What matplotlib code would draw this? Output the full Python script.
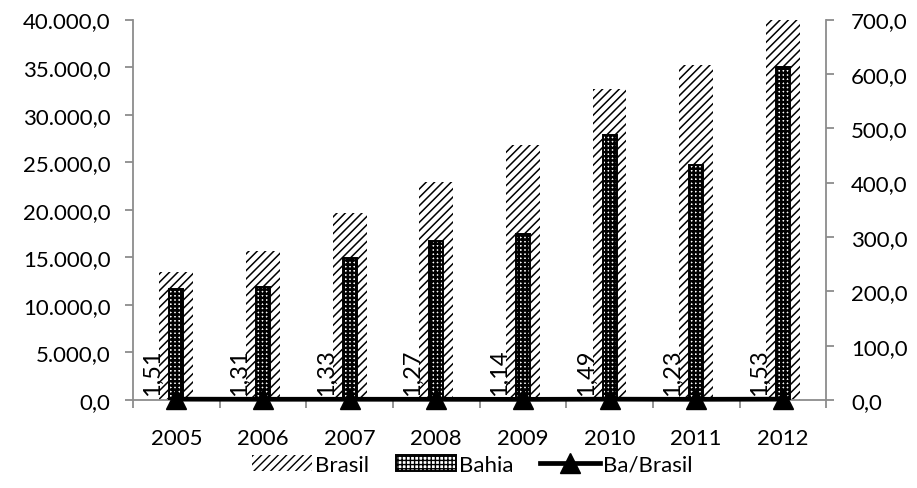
import numpy as np
import matplotlib
matplotlib.use("Agg")
import matplotlib.pyplot as plt
from matplotlib.ticker import FuncFormatter

plt.rcParams["font.family"] = ["Lato", "DejaVu Sans"]

years = ["2005", "2006", "2007", "2008", "2009", "2010", "2011", "2012"]
brasil = [13500, 15700, 19700, 22970, 26800, 32700, 35250, 40000]
bahia = [204, 207, 261, 292, 305, 488, 433, 613]
ba_brasil = [1.51, 1.31, 1.33, 1.27, 1.14, 1.49, 1.23, 1.53]

GRAY = "#8c8c8c"
FS = 16


def br_fmt(v, _pos=None):
    s = f"{v:,.1f}"
    return s.replace(",", "X").replace(".", ",").replace("X", ".")


x = np.arange(len(years))
fig = plt.figure(figsize=(9.17, 4.89), dpi=100)
ax = fig.add_axes([0.145, 0.18, 0.756, 0.778])
ax2 = ax.twinx()

with plt.rc_context({"hatch.linewidth": 1.1}):
    ax.bar(x, brasil, width=0.39, color="white", edgecolor="black", hatch="////",
           linewidth=0, label="Brasil", zorder=2)
with plt.rc_context({"hatch.linewidth": 1.8}):
    ax2.bar(x, bahia, width=0.16, color="white", edgecolor="black", hatch="++++",
            linewidth=1.4, label="Bahia", zorder=3)
ax2.plot(x, ba_brasil, "-^", color="black", lw=3.4, markersize=14,
         label="Ba/Brasil", zorder=4, clip_on=False)

# rotated ratio labels sitting just left of each marker
for xi, v in zip(x, ba_brasil):
    ax2.annotate(f"{v:.2f}".replace(".", ","), (xi, v), xytext=(-17, 3),
                 textcoords="offset points", rotation=90, ha="center",
                 va="bottom", fontsize=17, zorder=5)

ax.set_xlim(-0.5, len(years) - 0.5)
ax.set_ylim(0, 40000)
ax2.set_ylim(0, 700)
ax.set_yticks(np.arange(0, 40001, 5000))
ax2.set_yticks(np.arange(0, 701, 100))
ax.yaxis.set_major_formatter(FuncFormatter(br_fmt))
ax2.yaxis.set_major_formatter(FuncFormatter(br_fmt))

ax.set_xticks(x)
ax.set_xticklabels(years)
ax.set_xticks(np.arange(-0.5, len(years)), minor=True)
ax.tick_params(axis="x", which="major", length=0, pad=20, labelsize=FS)
ax.tick_params(axis="x", which="minor", length=6, color=GRAY, width=1.3)
ax.tick_params(axis="y", length=6, color=GRAY, width=1.3, labelsize=FS, pad=10)
ax2.tick_params(axis="y", length=6, color=GRAY, width=1.3, labelsize=FS, pad=12)

for a in (ax, ax2):
    a.spines["top"].set_visible(False)
    for side in ("left", "right", "bottom"):
        a.spines[side].set_color(GRAY)
        a.spines[side].set_linewidth(1.3)
ax.spines["right"].set_visible(False)
ax2.spines["left"].set_visible(False)
ax2.spines["bottom"].set_visible(False)

h1, l1 = ax.get_legend_handles_labels()
h2, l2 = ax2.get_legend_handles_labels()
order = [0, 2, 1]
handles = h1 + h2
labels = l1 + l2
fig.legend([handles[i] for i in order], [labels[i] for i in order],
           loc="center", bbox_to_anchor=(0.515, 0.048), ncol=3, frameon=False,
           fontsize=FS, handlelength=2.7, handletextpad=0.15, columnspacing=1.2)

fig.savefig("out.png", dpi=100)
